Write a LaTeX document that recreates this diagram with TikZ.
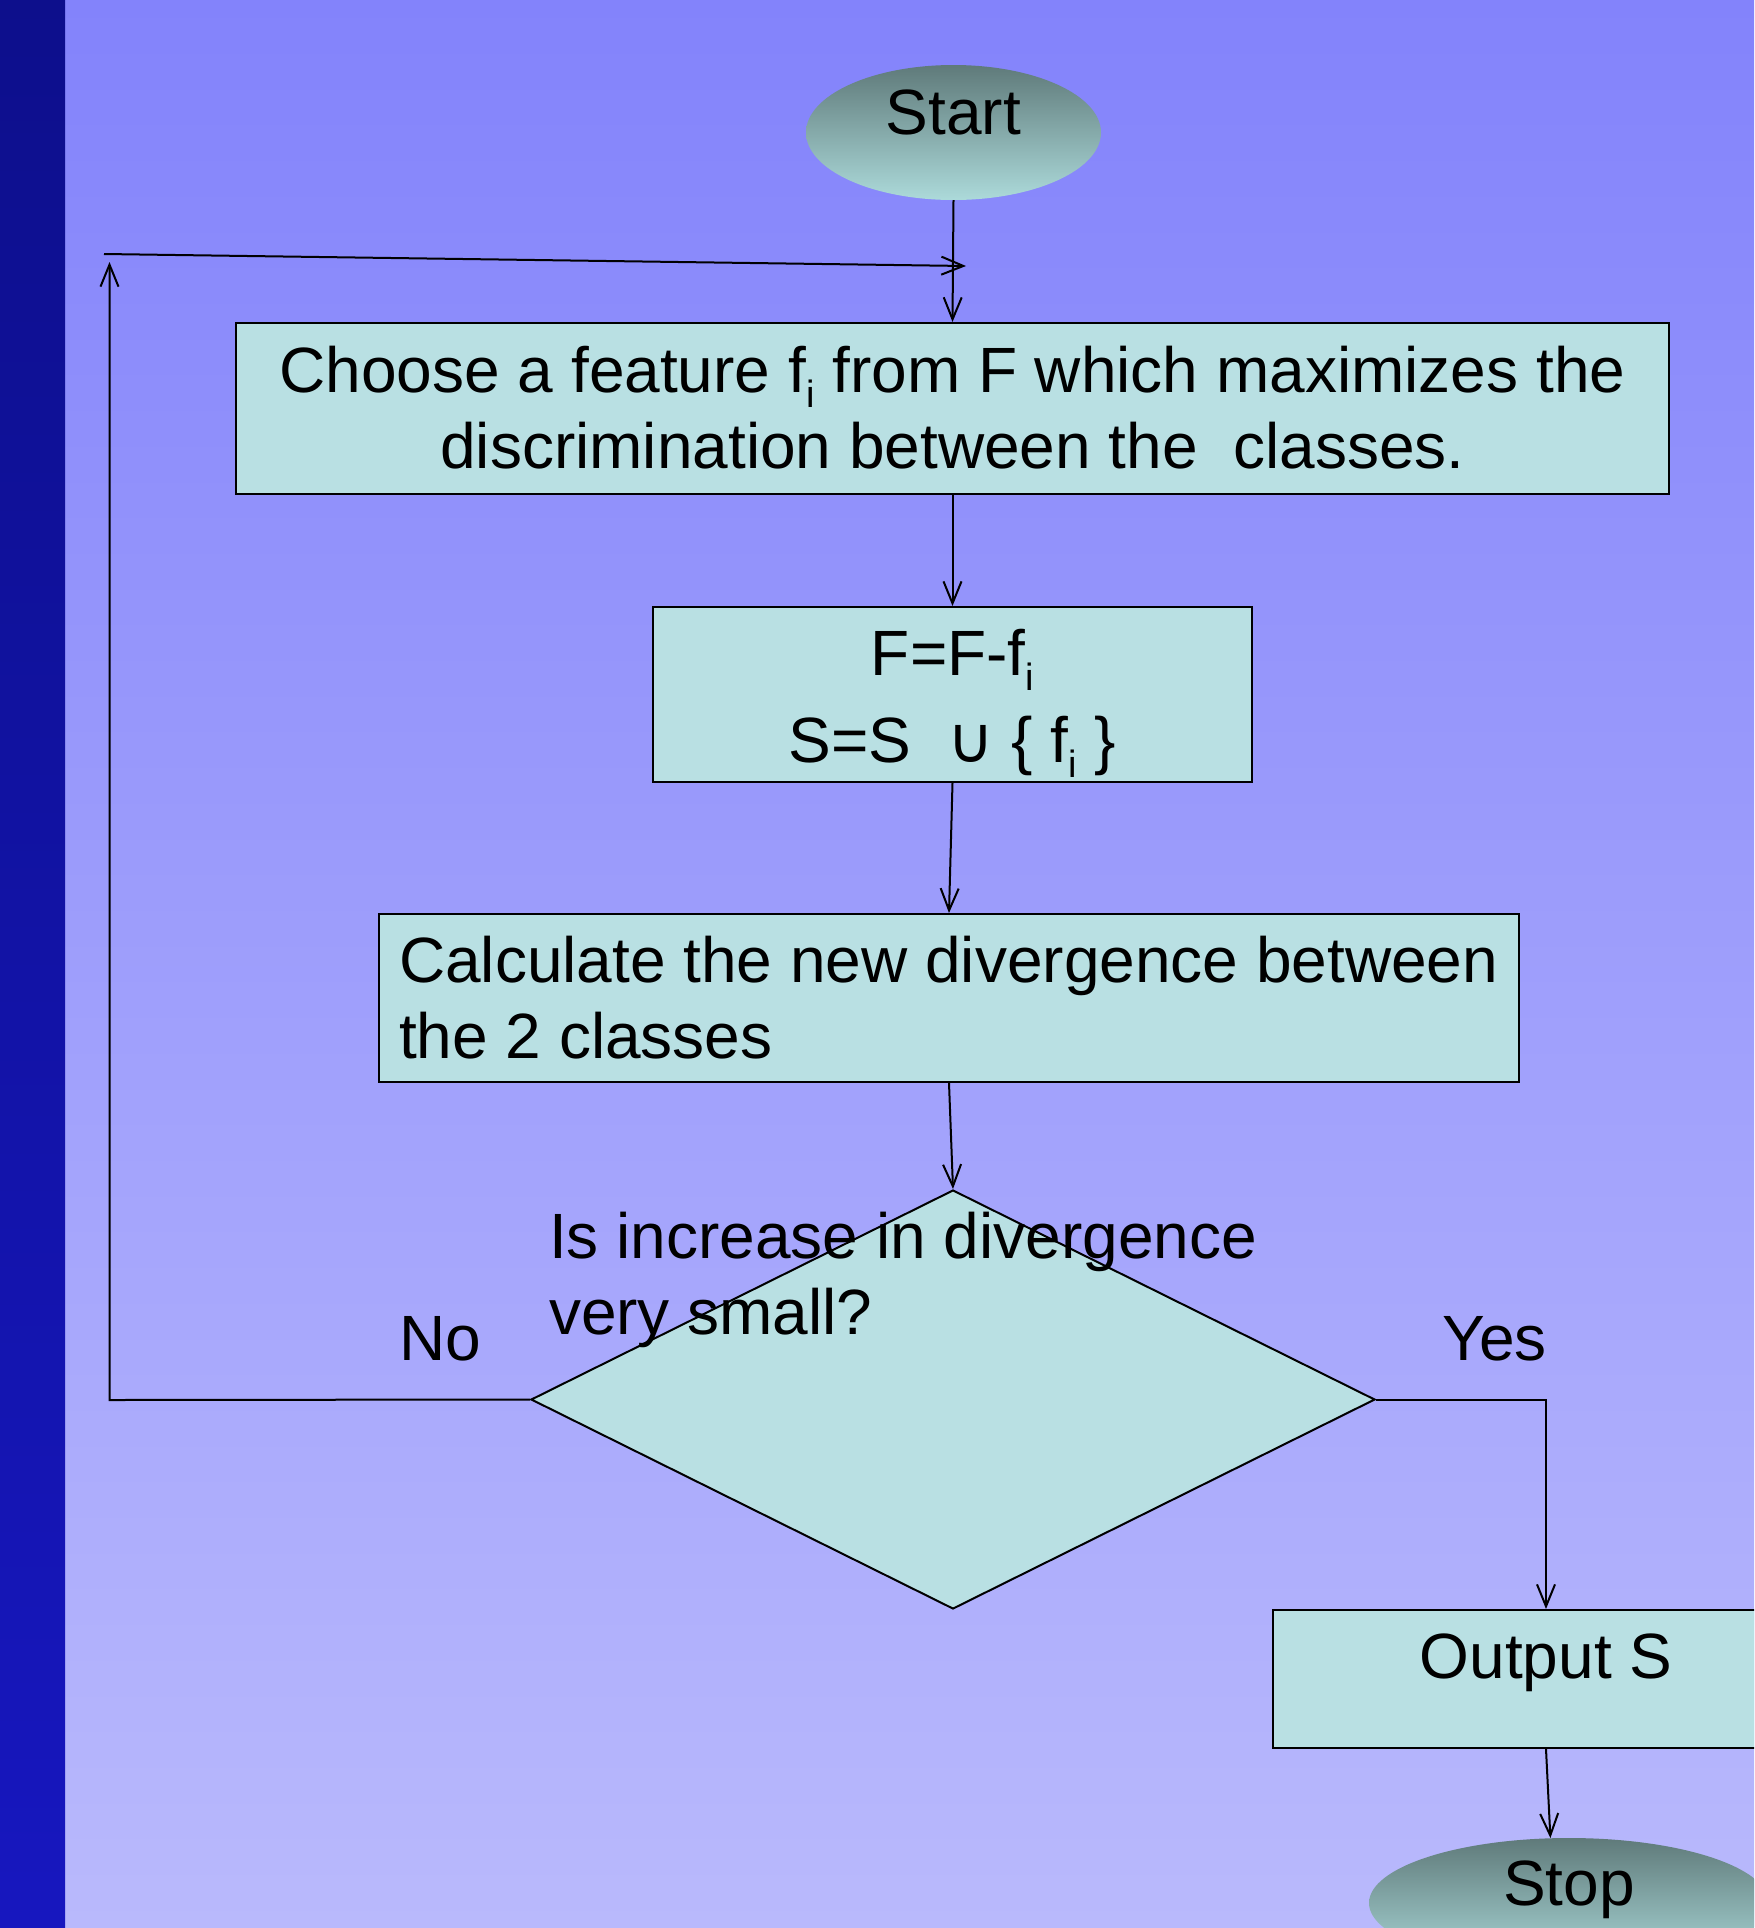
\documentclass[tikz,border=0pt]{standalone}
\usepackage{fontspec}
\setmainfont{Liberation Sans}
\newfontfamily\dejavu{DejaVu Sans}
\usetikzlibrary{shapes.geometric,arrows.meta}
\definecolor{bgtop}{RGB}{131,131,251}
\definecolor{bgbot}{RGB}{185,185,252}
\definecolor{bartop}{RGB}{13,15,140}
\definecolor{barbot}{RGB}{23,23,191}
\definecolor{boxfill}{RGB}{185,224,227}
\definecolor{elltop}{RGB}{95,122,122}
\definecolor{ellbot}{RGB}{172,218,218}
\newcommand\lowi{\raisebox{-15pt}{\fontsize{38}{38}\selectfont i}}
\begin{document}
\begin{tikzpicture}[x=1pt,y=-1pt,
  every node/.style={font=\fontsize{64}{76}\selectfont, inner sep=0pt},
  ell/.style={ellipse, minimum width=#1, top color=elltop, bottom color=ellbot},
  procbox/.style={rectangle, draw=black, line width=2pt, fill=boxfill},
  decide/.style={diamond, draw=black, line width=2pt, fill=boxfill},
  arr/.style={draw=black, line width=2pt, -{Straight Barb[length=22pt,width=18pt]}},
  conn/.style={draw=black, line width=2pt}]
\useasboundingbox (0,0) rectangle (1754,1928);
\clip (0,0) rectangle (1754,1928);
\shade[top color=bgtop, bottom color=bgbot] (65,0) rectangle (1754,1928);
\shade[top color=bartop, bottom color=barbot] (0,0) rectangle (65,1928);

\node[ell=295pt, minimum height=135pt] (start) at (953.5,132.5)
  {\raisebox{-1.5pt}[0pt][0pt]{\makebox[0pt]{Start}}};

\node[procbox, minimum width=1433pt, minimum height=171pt] (box1) at (952.5,408.5)
  {\raisebox{16.5pt}[0pt][0pt]{\makebox[0pt]{\begin{tabular}[t]{@{}c@{}}Choose a feature f\lowi{} from F which maximizes the\\discrimination between the\ \ classes.\end{tabular}}}};

\node[procbox, minimum width=599pt, minimum height=175pt] (box2) at (952.5,694.5)
  {\raisebox{19.5pt}[0pt][0pt]{\makebox[0pt]{\begin{tabular}[t]{@{}c@{}}F=F-f\lowi\\[11pt]S=S\ \ {\dejavu\fontsize{64}{64}\selectfont ∪} \{ f\lowi{} \}\end{tabular}}}};

\node[procbox, minimum width=1140pt, minimum height=168pt] (box3) at (949,998)
  {\raisebox{16pt}[0pt][0pt]{\makebox[0pt][l]{\hspace*{-550pt}\begin{tabular}[t]{@{}l@{}}Calculate the new divergence between\\the 2 classes\end{tabular}}}};

\node[decide, minimum width=844pt, minimum height=419pt] (dia) at (953,1399.5)
  {\raisebox{141.5pt}[0pt][0pt]{\makebox[0pt][l]{\hspace*{-404pt}\begin{tabular}[t]{@{}l@{}}Is increase in divergence\\very small?\end{tabular}}}};

\node[procbox, minimum width=546pt, minimum height=138pt] (out) at (1546,1679)
  {\raisebox{1pt}[0pt][0pt]{\makebox[0pt]{Output S}}};

\node[ell=400pt, minimum height=130pt] (stop) at (1569,1903)
  {\raisebox{-2pt}[0pt][0pt]{\makebox[0pt]{Stop}}};

\node[anchor=base west] (no) at (399,1360) {No};
\node[anchor=base west] (yes) at (1442,1360) {Yes};

\coordinate (lpcorner) at (109.5,1400);
\coordinate (lptop) at (109.5,262);
\coordinate (lpstart) at (104,254);
\coordinate (lpend) at (966,266);

\draw[arr] (start.south) -- (box1.north);
\draw[arr] (box1.south) -- (box2.north);
\draw[arr] (box2.south) -- (box3.north);
\draw[arr] (box3.south) -- (dia.north);
\draw[arr] (dia.west) -- (lpcorner) -- (lptop);
\draw[arr] (lpstart) -- (lpend);
\draw[arr] (dia.east) -| (out.north);
\draw[arr] (out.south) -- (stop.106);
\end{tikzpicture}
\end{document}
